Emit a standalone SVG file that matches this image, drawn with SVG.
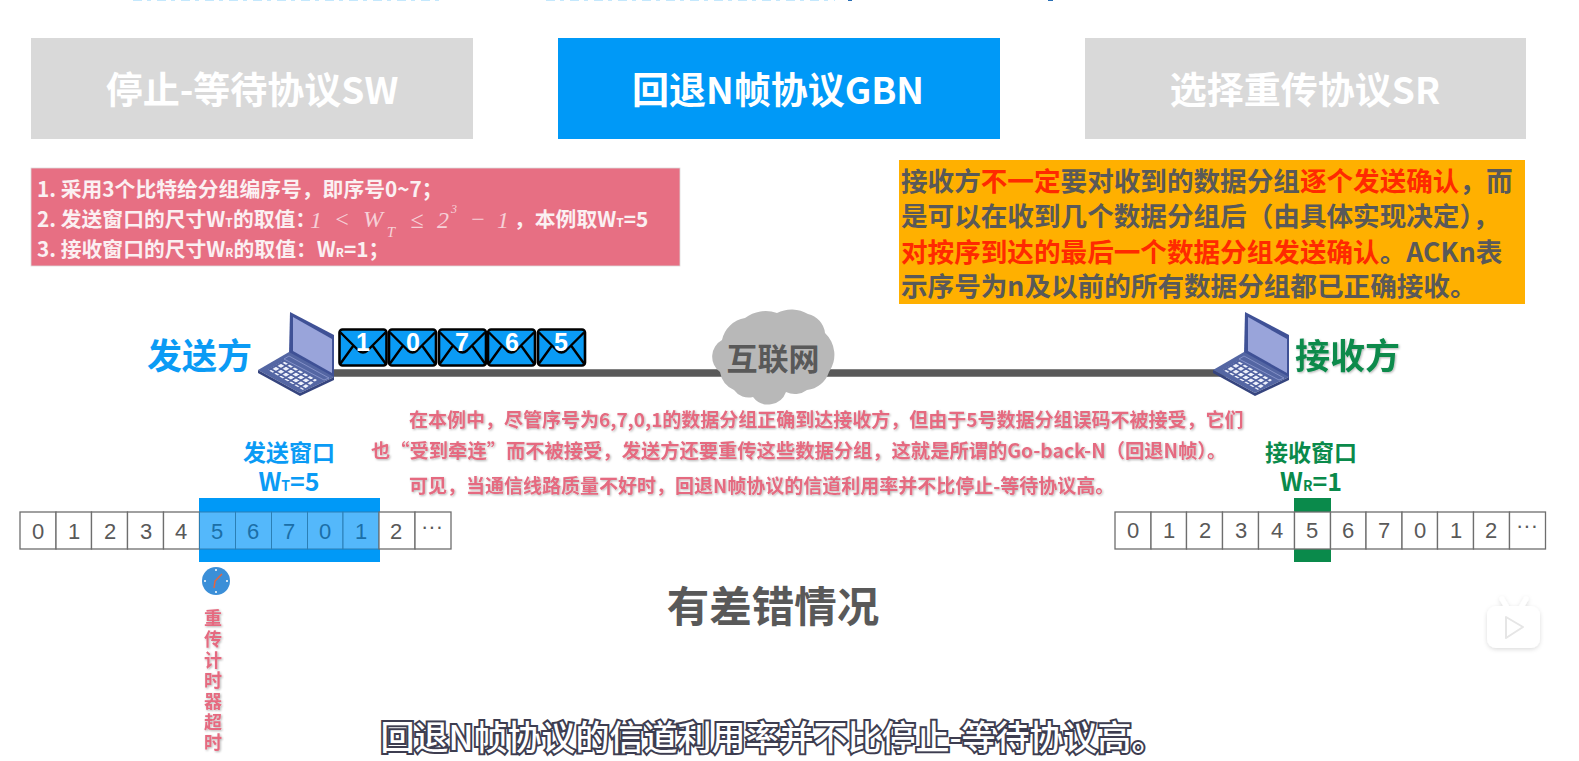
<svg xmlns="http://www.w3.org/2000/svg" width="1579" height="761" viewBox="0 0 1579 761">
<style>
text{font-family:"Noto Sans CJK SC","Liberation Sans",sans-serif}
.b{font-weight:700}
.tab{font-size:37px;font-weight:700;fill:#fff;text-anchor:middle}
.red{font-size:20.800px;font-weight:700;fill:#fbf0f2}
.org{font-size:26.600px;font-weight:700;fill:#595959}
.hl{fill:#ff2a00}
.note{font-weight:700;fill:#e56b80;filter:url(#s)}
.cell{fill:#fff;stroke:#6e6e6e;stroke-width:1.3}
.num{font-family:"Liberation Sans",sans-serif;font-size:22px;fill:#595959;text-anchor:middle}
.numb{font-family:"Liberation Sans",sans-serif;font-size:22px;fill:#1b6fa8;text-anchor:middle}
.math{font-family:"Liberation Serif",serif;font-style:italic;fill:#f6d0d7;font-size:24px;text-anchor:middle}
.up{font-style:normal}
.env{fill:#0a9bf5;stroke:#000;stroke-width:2.600;stroke-linejoin:round}
.flap{fill:none;stroke:#000;stroke-width:2.400}
.envn{font-size:25px;font-weight:700;fill:#fff;text-anchor:middle;font-family:"Liberation Sans",sans-serif}
.tm{font-size:18px;font-weight:700;fill:#e56b80;text-anchor:middle;filter:url(#s)}
</style>
<defs>
<filter id="s" x="-10%" y="-10%" width="120%" height="120%"><feDropShadow dx="1" dy="1" stdDeviation="0.8" flood-color="#000" flood-opacity="0.3"/></filter>
<filter id="soft" x="-20%" y="-20%" width="140%" height="140%"><feDropShadow dx="0" dy="1.500" stdDeviation="2" flood-color="#000" flood-opacity="0.14"/></filter>
<pattern id="keys" patternUnits="userSpaceOnUse" width="1" height="1" patternTransform="matrix(5 2.900 5 -3 268 370)"><rect width="1" height="1" fill="#4c5e9e"/><rect x=".15" y=".15" width=".68" height=".68" fill="#eef1fb"/></pattern>
<g id="lap">
<path d="M32 0L76 23L76 66L31 42Z" fill="#3f5196"/>
<path d="M35 5L74 27L74 61L35 39Z" fill="#99a4da"/>
<path d="M0 58L31 40L76 65L42 81Z" fill="#5466a3"/>
<path d="M31 44L71 66L66 68L26 47Z" fill="none" stroke="#8f9bcf" stroke-width="0.800"/>
<path d="M0 58L42 81L76 65L76 68L42 84L0 61Z" fill="#36457f"/>
<path d="M10 58L45 78L59 68L25 49Z" fill="url(#keys)"/>
</g>
<g id="env">
<rect x="0" y="0" width="47" height="36" rx="3" class="env"/>
<path d="M1 3L19 21Q23.500 25 28 21L46 3M1 34L14 16M46 34L33 16" class="flap"/>
</g>
</defs>
<rect width="1579" height="761" fill="#fff"/>
<g id="top-fragments" fill="none" stroke-width="1.200">
<path d="M133 0.500H445" stroke="#c4e8fd" stroke-dasharray="9 5 4 6"/>
<path d="M546 0.500H835" stroke="#c4e8fd" stroke-dasharray="9 5 4 6"/>
<path d="M848 0.500H852M1048 0.500H1053" stroke="#2a6fb5"/>
</g>

<g id="tab-sw"><rect x="31" y="38" width="442" height="101" fill="#d9d9d9"/><text x="252" y="104" class="tab">停止-等待协议SW</text></g>
<g id="tab-gbn"><rect x="558" y="38" width="442" height="101" fill="#0099f7"/><text x="778" y="104" class="tab">回退N帧协议GBN</text></g>
<g id="tab-sr"><rect x="1085" y="38" width="441" height="101" fill="#d9d9d9"/><text x="1305" y="104" class="tab">选择重传协议SR</text></g>

<g id="rules">
<rect x="31" y="168" width="649" height="98" fill="#e76f83" stroke="#dcdcdc" stroke-width="0.800"/>
<text x="37" y="197" class="red">1. 采用3个比特给分组编序号，即序号0~7；</text>
<text x="37" y="226.500" class="red">2. 发送窗口的尺寸W<tspan font-size="12">T</tspan>的取值：</text>
<text class="math"><tspan x="316" y="228">1</tspan><tspan class="up" x="342" y="227">&lt;</tspan><tspan x="373" y="227">W</tspan><tspan x="391" y="237" font-size="15">T</tspan><tspan class="up" x="417" y="228">≤</tspan><tspan x="443" y="228">2</tspan><tspan x="454" y="213" font-size="12">3</tspan><tspan class="up" x="478" y="227">−</tspan><tspan x="503" y="228">1</tspan></text>
<text x="514" y="226.500" class="red">，本例取W<tspan font-size="12">T</tspan>=5</text>
<text x="37" y="257" class="red">3. 接收窗口的尺寸W<tspan font-size="12">R</tspan>的取值：W<tspan font-size="12">R</tspan>=1；</text>
</g>

<g id="note-box">
<rect x="899" y="160" width="626" height="144" fill="#ffb000"/>
<text x="901" y="191" class="org">接收方<tspan class="hl">不一定</tspan>要对收到的数据分组<tspan class="hl">逐个发送确认</tspan>，而</text>
<text x="901" y="226" class="org">是可以在收到几个数据分组后（由具体实现决定），</text>
<text x="901" y="262" class="org"><tspan class="hl">对按序到达的最后一个数据分组发送确认</tspan>。ACKn表</text>
<text x="901" y="296" class="org">示序号为n及以前的所有数据分组都已正确接收。</text>
</g>

<g id="connectors"><path d="M334 373H1228" stroke="#595959" stroke-width="7.500" fill="none"/></g>

<g id="sender">
<text x="147" y="369" font-size="35" class="b" fill="#0a9bf5">发送方</text>
<use href="#lap" x="258" y="312"/>
</g>
<g id="packets">
<use href="#env" x="339.500" y="329.500"/><text x="363" y="351" class="envn">1</text>
<use href="#env" x="389" y="329.500"/><text x="413" y="351" class="envn">0</text>
<use href="#env" x="439" y="329.500"/><text x="462" y="351" class="envn">7</text>
<use href="#env" x="488" y="329.500"/><text x="512" y="351" class="envn">6</text>
<use href="#env" x="538" y="329.500"/><text x="561" y="351" class="envn">5</text>
</g>
<g id="internet">
<path d="M720 372A19 19 0 0 1 722 340A28 28 0 0 1 745 318A34 34 0 0 1 777 313A32 32 0 0 1 808 314A22 22 0 0 1 825 333A30 30 0 0 1 829 372A26 26 0 0 1 807 390A20 20 0 0 1 786 392A19 19 0 0 1 753 397A18 18 0 0 1 734 390A24 24 0 0 1 720 372Z" fill="#b8b8b8"/>
<text x="773" y="370" font-size="31" class="b" fill="#595959" text-anchor="middle">互联网</text>
</g>
<g id="receiver">
<use href="#lap" x="1213" y="312"/>
<text x="1295" y="369" font-size="35" class="b" fill="#0a8a4b" filter="url(#s)">接收方</text>
</g>

<g id="explain">
<text x="409" y="427" class="note" font-size="19">在本例中，尽管序号为6,7,0,1的数据分组正确到达接收方，但由于5号数据分组误码不被接受，它们</text>
<text x="371" y="458" class="note" font-size="19.300">也“受到牵连”而不被接受，发送方还要重传这些数据分组，这就是所谓的Go-back-N（回退N帧）。</text>
<text x="409" y="493" class="note" font-size="19">可见，当通信线路质量不好时，回退N帧协议的信道利用率并不比停止-等待协议高。</text>
</g>

<g id="send-window">
<text x="289" y="461" font-size="23" class="b" fill="#0a9bf5" text-anchor="middle">发送窗口</text>
<text x="289" y="491" font-size="25" class="b" fill="#0a9bf5" text-anchor="middle">W<tspan font-size="14">T</tspan>=5</text>
<rect x="199" y="498" width="181" height="64" fill="#0099f7"/>
<g>
<rect x="20" y="512" width="36" height="37" class="cell"/><rect x="56" y="512" width="35.500" height="37" class="cell"/><rect x="91.500" y="512" width="36" height="37" class="cell"/><rect x="127.500" y="512" width="36" height="37" class="cell"/><rect x="163.500" y="512" width="36" height="37" class="cell"/>
<rect x="199.500" y="512" width="36" height="37" fill="#54b8fb" stroke="#2b7fb5" stroke-width="1"/><rect x="235.500" y="512" width="36" height="37" fill="#54b8fb" stroke="#2b7fb5" stroke-width="1"/><rect x="271.500" y="512" width="36" height="37" fill="#54b8fb" stroke="#2b7fb5" stroke-width="1"/><rect x="307.500" y="512" width="35.500" height="37" fill="#54b8fb" stroke="#2b7fb5" stroke-width="1"/><rect x="343" y="512" width="36" height="37" fill="#54b8fb" stroke="#2b7fb5" stroke-width="1"/>
<rect x="379" y="512" width="36" height="37" class="cell"/><rect x="415" y="512" width="36" height="37" class="cell"/>
<text x="38" y="539" class="num">0</text><text x="74" y="539" class="num">1</text><text x="110" y="539" class="num">2</text><text x="146" y="539" class="num">3</text><text x="181" y="539" class="num">4</text>
<text x="217" y="539" class="numb">5</text><text x="253" y="539" class="numb">6</text><text x="289" y="539" class="numb">7</text><text x="325" y="539" class="numb">0</text><text x="361" y="539" class="numb">1</text>
<text x="396" y="539" class="num">2</text><text x="432" y="534" class="num">···</text>
</g>
</g>

<g id="timer">
<circle cx="216" cy="581" r="14" fill="#3b8fd8"/>
<g fill="#fff"><circle cx="216" cy="570" r="1"/><circle cx="216" cy="592" r="1"/><circle cx="205" cy="581" r="1"/><circle cx="227" cy="581" r="1"/></g>
<path d="M214 588L215 581L222 574" stroke="#e8643c" stroke-width="1.500" fill="none"/>
<text class="tm"><tspan x="213" y="625">重</tspan><tspan x="213" y="646">传</tspan><tspan x="213" y="667">计</tspan><tspan x="213" y="687">时</tspan><tspan x="213" y="708">器</tspan><tspan x="213" y="729">超</tspan><tspan x="213" y="749">时</tspan></text>
</g>

<g id="recv-window">
<text x="1311" y="461" font-size="23" class="b" fill="#0a8a4b" text-anchor="middle">接收窗口</text>
<text x="1311" y="491" font-size="25" class="b" fill="#0a8a4b" text-anchor="middle">W<tspan font-size="14">R</tspan>=1</text>
<rect x="1294" y="498" width="37" height="64" fill="#0a8a4b"/>
<g>
<rect x="1115" y="512" width="36" height="37" class="cell"/><rect x="1151" y="512" width="35.500" height="37" class="cell"/><rect x="1186.500" y="512" width="36" height="37" class="cell"/><rect x="1222.500" y="512" width="36" height="37" class="cell"/><rect x="1258.500" y="512" width="36" height="37" class="cell"/><rect x="1294.500" y="512" width="36" height="37" class="cell"/><rect x="1330.500" y="512" width="35.500" height="37" class="cell"/><rect x="1366" y="512" width="36" height="37" class="cell"/><rect x="1402" y="512" width="35.500" height="37" class="cell"/><rect x="1437.500" y="512" width="36" height="37" class="cell"/><rect x="1473.500" y="512" width="36" height="37" class="cell"/><rect x="1509.500" y="512" width="36" height="37" class="cell"/>
<text x="1133" y="538" class="num">0</text><text x="1169" y="538" class="num">1</text><text x="1205" y="538" class="num">2</text><text x="1241" y="538" class="num">3</text><text x="1277" y="538" class="num">4</text><text x="1312" y="538" class="num">5</text><text x="1348" y="538" class="num">6</text><text x="1384" y="538" class="num">7</text><text x="1420" y="538" class="num">0</text><text x="1456" y="538" class="num">1</text><text x="1491" y="538" class="num">2</text><text x="1527" y="533" class="num">···</text>
</g>
</g>

<g id="error-label"><text x="773" y="622" font-size="42.500" class="b" fill="#595959" text-anchor="middle">有差错情况</text></g>

<g id="subtitle"><text x="773" y="750" font-size="34" font-weight="500" fill="#fff" stroke="#3d3d50" stroke-width="4" paint-order="stroke" text-anchor="middle">回退N帧协议的信道利用率并不比停止-等待协议高。</text></g>

<g id="play-badge" filter="url(#soft)">
<path d="M1502 599L1508 609M1526 599L1520 609" stroke="#fff" stroke-width="5" stroke-linecap="round"/>
<rect x="1487" y="606" width="53" height="42" rx="9" fill="#fff"/>
<path d="M1506 617L1523 627L1506 638Z" fill="#fff" stroke="#e6e6e6" stroke-width="2" stroke-linejoin="round"/>
</g>
</svg>
